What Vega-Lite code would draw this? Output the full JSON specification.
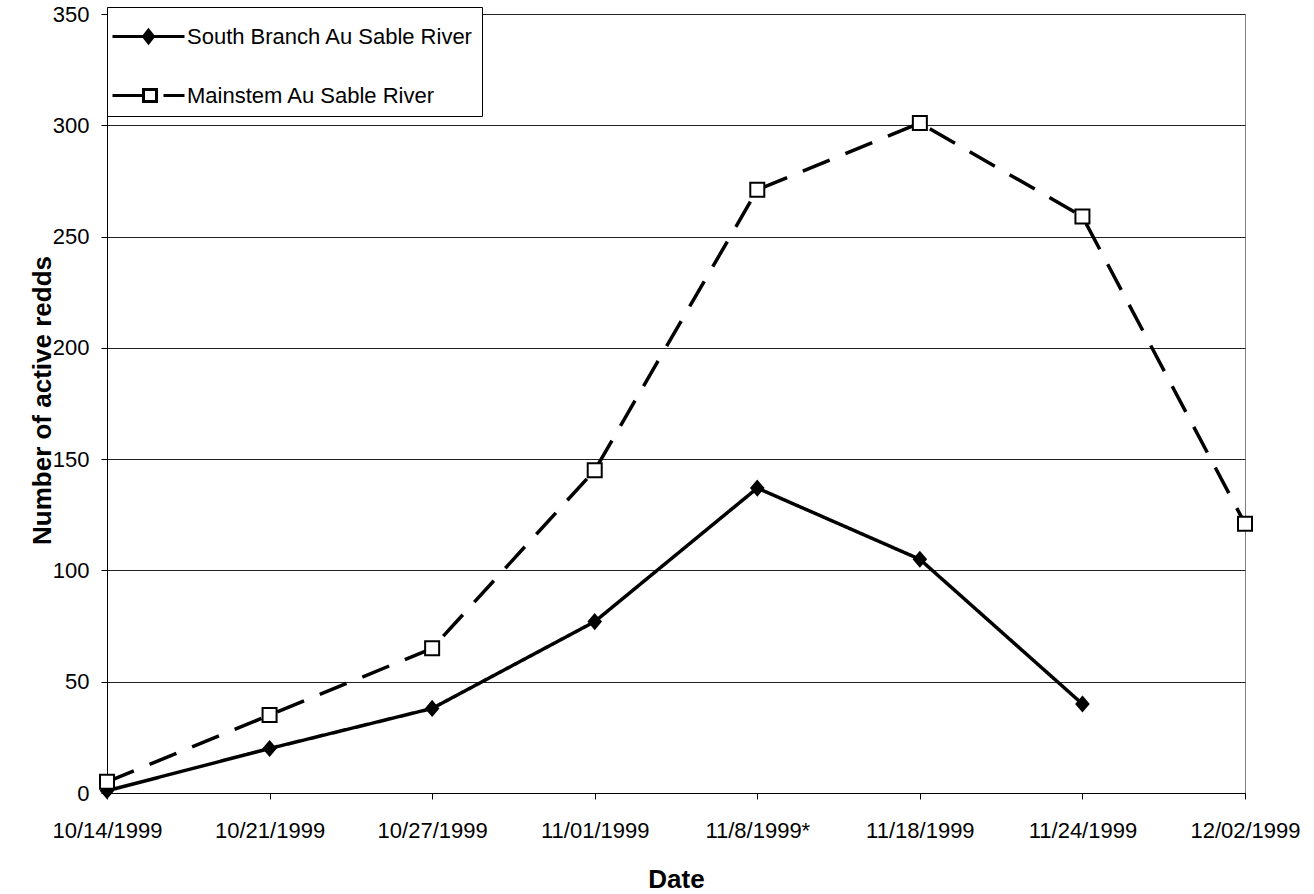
{
  "$schema": "https://vega.github.io/schema/vega-lite/v6.json",
  "autosize": "none",
  "padding": {"left": 107, "top": 14, "right": 69, "bottom": 101},
  "width": 1138,
  "height": 779,
  "background": "white",
  "config": {
    "font": "Liberation Sans",
    "view": {"stroke": "#808080", "strokeWidth": 1}
  },
  "data": {
    "values": [
      {"date": "10/14/1999", "series": "South Branch Au Sable River", "redds": 1},
      {"date": "10/21/1999", "series": "South Branch Au Sable River", "redds": 20},
      {"date": "10/27/1999", "series": "South Branch Au Sable River", "redds": 38},
      {"date": "11/01/1999", "series": "South Branch Au Sable River", "redds": 77},
      {"date": "11/8/1999*", "series": "South Branch Au Sable River", "redds": 137},
      {"date": "11/18/1999", "series": "South Branch Au Sable River", "redds": 105},
      {"date": "11/24/1999", "series": "South Branch Au Sable River", "redds": 40},
      {"date": "10/14/1999", "series": "Mainstem Au Sable River", "redds": 5},
      {"date": "10/21/1999", "series": "Mainstem Au Sable River", "redds": 35},
      {"date": "10/27/1999", "series": "Mainstem Au Sable River", "redds": 65},
      {"date": "11/01/1999", "series": "Mainstem Au Sable River", "redds": 145},
      {"date": "11/8/1999*", "series": "Mainstem Au Sable River", "redds": 271},
      {"date": "11/18/1999", "series": "Mainstem Au Sable River", "redds": 301},
      {"date": "11/24/1999", "series": "Mainstem Au Sable River", "redds": 259},
      {"date": "12/02/1999", "series": "Mainstem Au Sable River", "redds": 121}
    ]
  },
  "encoding": {
    "x": {
      "field": "date",
      "type": "ordinal",
      "sort": ["10/14/1999", "10/21/1999", "10/27/1999", "11/01/1999", "11/8/1999*", "11/18/1999", "11/24/1999", "12/02/1999"],
      "scale": {"type": "point", "padding": 0},
      "axis": {
        "title": "Date",
        "titleFontSize": 26,
        "titleFontWeight": "bold",
        "titleColor": "black",
        "titleBaseline": "alphabetic",
        "titleY": 94,
        "labelAngle": 0,
        "labelFontSize": 22,
        "labelColor": "black",
        "labelPadding": 21,
        "tickSize": 6,
        "tickColor": "black",
        "domainColor": "black",
        "domainWidth": 1,
        "grid": false
      }
    },
    "y": {
      "field": "redds",
      "type": "quantitative",
      "scale": {"domain": [0, 350], "nice": false},
      "axis": {
        "title": "Number of active redds",
        "titleFontSize": 26,
        "titleFontWeight": "bold",
        "titleColor": "black",
        "titleAngle": -90,
        "titleBaseline": "alphabetic",
        "titleX": -57,
        "titleY": 386,
        "values": [0, 50, 100, 150, 200, 250, 300, 350],
        "labelFontSize": 22,
        "labelColor": "black",
        "labelPadding": 12,
        "tickSize": 6,
        "tickColor": "black",
        "domainColor": "black",
        "grid": true,
        "gridColor": "#222222",
        "gridWidth": 1
      }
    }
  },
  "layer": [
    {
      "mark": {"type": "line", "color": "black", "strokeWidth": 3.5},
      "encoding": {
        "strokeDash": {
          "field": "series",
          "type": "nominal",
          "scale": {"domain": ["Mainstem Au Sable River", "South Branch Au Sable River"], "range": [[29, 17], [1, 0]]},
          "legend": null
        }
      }
    },
    {
      "transform": [{"filter": "datum.series === 'South Branch Au Sable River'"}],
      "mark": {"type": "point", "shape": "M0,-1.08L0.92,0L0,1.08L-0.92,0Z", "size": 169, "filled": true, "fill": "black", "stroke": "black", "strokeWidth": 2, "opacity": 1}
    },
    {
      "transform": [{"filter": "datum.series === 'Mainstem Au Sable River'"}],
      "mark": {"type": "point", "shape": "square", "size": 196, "filled": true, "fill": "white", "stroke": "black", "strokeWidth": 2, "opacity": 1}
    },
    {
      "mark": {"type": "point", "filled": false, "color": "black", "opacity": 0},
      "encoding": {
        "shape": {
          "field": "series",
          "type": "nominal",
          "scale": {
            "domain": ["South Branch Au Sable River", "Mainstem Au Sable River"],
            "range": [
              "M-1.2,0H2.4M0.6,-0.32L0.85,0L0.6,0.32L0.35,0ZM0.6,-0.2L0.75,0L0.6,0.2L0.45,0ZM0.6,-0.08L0.65,0L0.6,0.08L0.55,0Z",
              "M-1.2,0H0.35M1.35,0H2.4M0.35,-0.3H1V0.3H0.35Z"
            ]
          },
          "legend": {
            "title": null,
            "orient": "none",
            "legendX": 0,
            "legendY": -7,
            "padding": 8,
            "fillColor": "white",
            "strokeColor": "black",
            "symbolSize": 1600,
            "symbolStrokeWidth": 3,
            "symbolStrokeColor": "black",
            "symbolFillColor": "white",
            "symbolOpacity": 1,
            "labelFontSize": 22,
            "labelColor": "black",
            "labelOffset": 29,
            "rowPadding": 25,
            "labelLimit": 400
          }
        }
      }
    }
  ]
}
